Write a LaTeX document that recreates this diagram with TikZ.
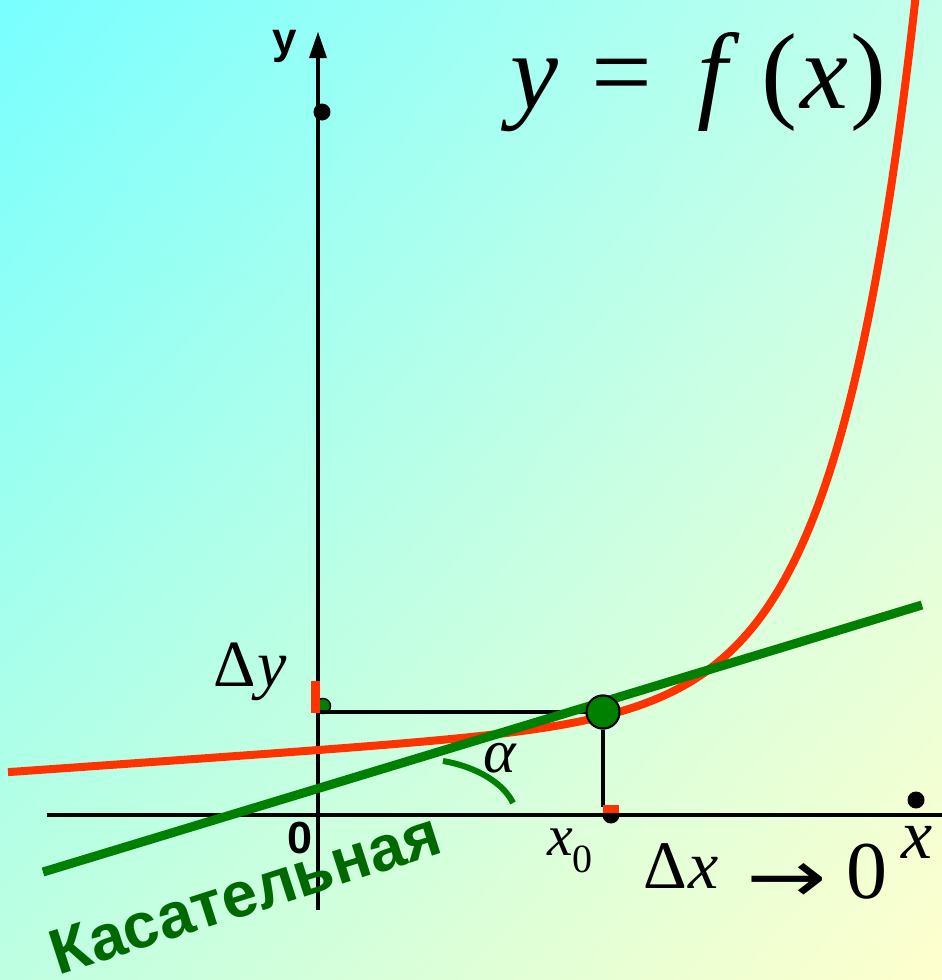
\documentclass[tikz,border=0pt]{standalone}
\usepackage{fontspec}
\setmainfont{Liberation Serif}
\setsansfont{Liberation Sans}
\newfontfamily\arrowfont{DejaVu Sans}
\usetikzlibrary{shadings,calc}
\definecolor{bgUL}{RGB}{120,255,255}
\definecolor{bgUR}{RGB}{195,255,235}
\definecolor{bgLL}{RGB}{190,255,225}
\definecolor{bgLR}{RGB}{255,255,205}
\definecolor{curvered}{RGB}{255,51,0}
\definecolor{tangreen}{RGB}{0,128,0}
\definecolor{textgreen}{RGB}{0,104,0}
\tikzset{
  axisline/.style={line width=4pt, black},
  guideline/.style={line width=3.5pt, black},
  blackdot/.style={circle, fill=black, inner sep=0pt, minimum size=17pt},
  serif/.style={inner sep=0pt, text=black},
  tanpoint/.style={circle, fill=tangreen, draw=black, line width=2pt, inner sep=0pt, minimum size=33pt},
}
\newcommand{\fs}[1]{\fontsize{#1}{#1}\selectfont}
\begin{document}
\begin{tikzpicture}[x=1pt,y=-1pt]
\useasboundingbox (0,0) rectangle (942,980);
\shade[upper left=bgUL, upper right=bgUR, lower left=bgLL, lower right=bgLR] (0,0) rectangle (942,980);
\clip (0,0) rectangle (942,980);

% coordinates
\coordinate (xl) at (47,815);
\coordinate (xr) at (942,815);
\coordinate (yb) at (318,910);
\coordinate (yt) at (318,57);
\coordinate (ytip) at (318,32);
\coordinate (hy) at (318,712);
\coordinate (vx) at (603,807);

% small green half dot on y axis
\node[circle, fill=tangreen, draw=black, line width=1.5pt, inner sep=0pt, minimum size=15pt] (gy) at (323,706) {};

% axes
\draw[axisline] (xl) -- (xr);
\draw[axisline] (yb) -- (yt);
\fill (ytip) -- ($(ytip)+(-9,26)$) -- ($(ytip)+(9,26)$) -- cycle;

% tangent point
\node[tanpoint] (tp) at (603,712) {};
\draw[guideline] (hy) -- (tp.west);
\draw[guideline] (tp.south) -- (vx);

% red curve
\draw[curvered, line width=8pt] plot[domain=8:917, samples=220, smooth] (\x, {815 - (42.3 + 0.07*\x + 42.4*exp((\x-690)/80))});

% tangent line
\coordinate (tl) at (43,872);
\coordinate (tr) at (922,605);
\draw[tangreen, line width=9pt] (tl) -- (tr);
\node[tanpoint] (tp2) at (tp) {};

% angle arc
\coordinate (a1) at (443,761);
\coordinate (a2) at (513,803);
\draw[tangreen, line width=6pt] (a1) .. controls (478,767) and (504,784) .. (a2);

% red markers
\fill[curvered] (311,681) rectangle (320,713);
\node[blackdot] (dx0) at (611,815) {};
\fill[curvered] (603,805) rectangle (619,813);

% dots
\node[blackdot] (dy) at (322,112) {};
\node[blackdot] (dx) at (916,800) {};

% labels
\node[inner sep=0pt, font=\sffamily\bfseries\fs{44}] (ylab) at (285,46) {y};
\node[inner sep=0pt, font=\sffamily\bfseries\fs{45}] (zero) at (300,838) {0};
\node[serif, anchor=base west, font=\fs{108}] (title) at (510,108) {\textit{y}\hspace{0.31em}=\hspace{0.42em}\textit{f}\hspace{0.2em}(\hspace{0.02em}\textit{x}\hspace{0.02em})};
\node[serif, anchor=base west, font=\fs{66}] (dylab) at (213,686) {Δ\hspace{0.03em}\textit{y}};
\node[serif, anchor=base west, font=\fs{62}] (alab) at (483,772) {\textit{α}};
\node[serif, anchor=base west, font=\fs{58}] (x0lab) at (547,855) {\textit{x}\raisebox{-0.3em}{\fs{40}0}};
\node[serif, anchor=base west, font=\fs{68}] (dxlab) at (643,888) {Δ\hspace{0.02em}\textit{x}};
\node[serif, anchor=center, font=\arrowfont\fs{74}] (arr) at (787,883) {\scalebox{1.3}[1]{→}};
\node[serif, anchor=base west, font=\fs{82}] (zlab) at (846,898) {0};
\node[serif, anchor=base west, font=\fs{70}] (xlab) at (901,858) {\textit{x}};
\node[anchor=base west, inner sep=0pt, rotate=17.8, text=textgreen, font=\sffamily\bfseries\fs{64}] (kas) at (58,976) {Касательная};
\end{tikzpicture}
\end{document}
